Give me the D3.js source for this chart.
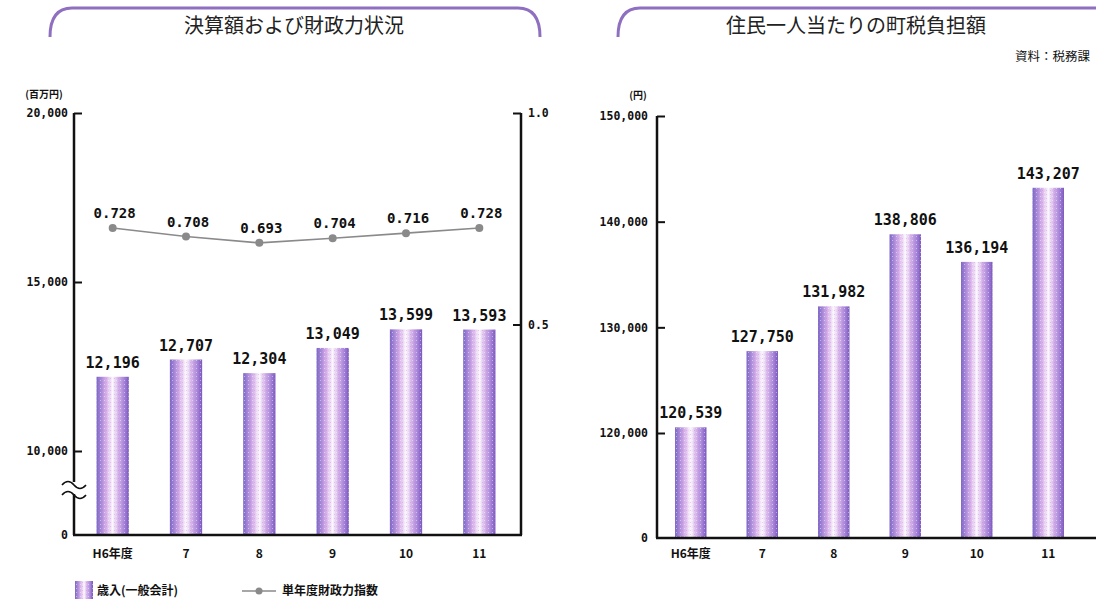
<!DOCTYPE html>
<html>
<head>
<meta charset="utf-8">
<script src="https://cdn.jsdelivr.net/npm/d3@7"></script>
<style>
	body { margin: 0; background: #fff; }
	svg text { font-family: "DejaVu Sans Mono", "Noto Sans CJK JP", monospace; fill: #111; }
	.title { font-family: "Noto Sans CJK JP", sans-serif !important; font-size: 20px; fill: #222; }
	.val { font-size: 15px; font-weight: bold; }
	.jp { font-family: "Noto Sans CJK JP", sans-serif !important; font-size: 12px; font-weight: bold; }
</style>
</head>
<body>
<svg id="chart" width="1096" height="607"></svg>
<script>
const years = ["H6年度", "7", "8", "9", "10", "11"];
const revenue = [12196, 12707, 12304, 13049, 13599, 13593];
const fiscalIndex = [0.728, 0.708, 0.693, 0.704, 0.716, 0.728];
const taxPerCapita = [120539, 127750, 131982, 138806, 136194, 143207];
const leftTicks = [0, 10000, 15000, 20000];
const rightTicks = [0.5, 1.0];
const taxTicks = [0, 120000, 130000, 140000, 150000];

const svg = d3.select("#chart");
const purple = "#8e6fc0";

// bar fill: horizontal gradient + a fine dither on top
const defs = svg.append("defs");
const grad = defs.append("linearGradient").attr("id", "barGrad").attr("x1", "0%").attr("x2", "100%");
[["0%", "#7a66c6"], ["15%", "#a88ad8"], ["30%", "#d6b0ea"], ["50%", "#fbf8fd"], ["68%", "#d2b0e8"], ["84%", "#a989da"], ["100%", "#7a58bf"]]
	.forEach((s) => grad.append("stop").attr("offset", s[0]).attr("stop-color", s[1]));
const pat = defs.append("pattern").attr("id", "dots").attr("width", 4).attr("height", 4).attr("patternUnits", "userSpaceOnUse");
pat.append("rect").attr("x", 0).attr("y", 0).attr("width", 1).attr("height", 1).attr("fill", "#ffffff").attr("opacity", 0.45);
pat.append("rect").attr("x", 2).attr("y", 2).attr("width", 1).attr("height", 1).attr("fill", "#e070d0").attr("opacity", 0.35);

function bars(g, data, x, y) {
	["url(#barGrad)", "url(#dots)"].forEach((f) => {
		g.selectAll(null).data(data).enter().append("rect")
			.attr("x", (d, i) => x(years[i])).attr("width", x.bandwidth())
			.attr("y", (d) => y(d)).attr("height", (d) => y(0) - y(d))
			.attr("fill", f);
	});
}

// title brackets
function bracket(x0, x1, cx, label) {
	svg.append("path")
		.attr("d", `M${x0},37 Q${x0},8 ${x0 + 22},8 L${x1 - 22},8 Q${x1},8 ${x1},37`)
		.attr("fill", "none").attr("stroke", purple).attr("stroke-width", 3);
	svg.append("text").attr("class", "title").attr("x", cx).attr("y", 33).attr("text-anchor", "middle").text(label);
}
bracket(50, 540, 294, "決算額および財政力状況");
bracket(618, 1130, 856, "住民一人当たりの町税負担額");
svg.append("text").attr("class", "jp").attr("x", 1090).attr("y", 61).attr("text-anchor", "end")
	.style("font-weight", "normal").style("font-size", "12.5px").text("資料：税務課");

function styleAxis(g, domainPath) {
	g.select(".domain").attr("stroke", "#111").attr("stroke-width", 2.5).attr("d", domainPath);
	g.selectAll(".tick line").attr("stroke", "#111").attr("stroke-width", 2);
	g.selectAll(".tick text").style("font-size", "11.5px").style("font-weight", "bold").attr("fill", "#111");
}

// ---------- left chart ----------
const x1 = d3.scaleBand().domain(years).range([76, 516]).paddingInner(0.56).paddingOuter(0.28);
const y1 = d3.scaleLinear().domain([0, 10000, 20000]).range([535, 451, 113]);
const yr = d3.scaleLinear().domain([0, 1]).range([536, 113]);

const g1 = svg.append("g");
bars(g1, revenue, x1, y1);
g1.selectAll("text.val").data(revenue).enter().append("text").attr("class", "val")
	.attr("x", (d, i) => x1(years[i]) + x1.bandwidth() / 2).attr("y", (d) => y1(d) - 9)
	.attr("text-anchor", "middle").text((d) => d3.format(",")(d));

const gl = g1.append("g").attr("transform", "translate(74,0)")
	.call(d3.axisLeft(y1).tickValues(leftTicks).tickSize(-8).tickPadding(6).tickFormat(d3.format(",")));
styleAxis(gl, "M0,113V535");
gl.selectAll(".tick").filter((d) => d === 0).select("line").remove();
const gr = g1.append("g").attr("transform", "translate(521,0)")
	.call(d3.axisRight(yr).tickValues(rightTicks).tickSize(-8).tickPadding(7).tickFormat(d3.format(".1f")));
styleAxis(gr, "M0,113V535");
g1.append("line").attr("x1", 73).attr("x2", 522).attr("y1", 535).attr("y2", 535).attr("stroke", "#111").attr("stroke-width", 2.5);

// axis break
g1.append("rect").attr("x", 68).attr("y", 482).attr("width", 12).attr("height", 12).attr("fill", "#fff");
[482, 492].forEach((yy) => {
	g1.append("path").attr("d", `M62,${yy + 3} q6,-7 12,0 t12,0`).attr("fill", "none").attr("stroke", "#111").attr("stroke-width", 1.6);
});

g1.append("text").attr("class", "jp").attr("x", 44).attr("y", 98).attr("text-anchor", "middle").style("font-size", "10px").text("(百万円)");

// fiscal index line
const cx1 = (i) => x1(years[i]) + x1.bandwidth() / 2;
const line = d3.line().x((d, i) => cx1(i)).y((d) => yr(d));
g1.append("path").datum(fiscalIndex).attr("d", line).attr("fill", "none").attr("stroke", "#8a8a8a").attr("stroke-width", 1.6);
g1.selectAll("circle.pt").data(fiscalIndex).enter().append("circle")
	.attr("cx", (d, i) => cx1(i)).attr("cy", (d) => yr(d)).attr("r", 4).attr("fill", "#8a8a8a");
g1.selectAll("text.idx").data(fiscalIndex).enter().append("text").attr("class", "val")
	.attr("x", (d, i) => cx1(i) + 2).attr("y", (d) => yr(d) - 10)
	.attr("text-anchor", "middle").style("font-size", "14px").text((d) => d3.format(".3f")(d));

g1.selectAll("text.xl").data(years).enter().append("text").attr("class", "jp")
	.attr("x", (d) => x1(d) + x1.bandwidth() / 2).attr("y", 558).attr("text-anchor", "middle").text((d) => d);

// legend
["url(#barGrad)", "url(#dots)"].forEach((f) => svg.append("rect").attr("x", 75).attr("y", 581).attr("width", 18).attr("height", 18).attr("fill", f));
svg.append("text").attr("class", "jp").attr("x", 97).attr("y", 595).text("歳入(一般会計)");
svg.append("line").attr("x1", 242).attr("x2", 276).attr("y1", 591).attr("y2", 591).attr("stroke", "#8a8a8a").attr("stroke-width", 1.6);
svg.append("circle").attr("cx", 259).attr("cy", 591).attr("r", 3.5).attr("fill", "#8a8a8a");
svg.append("text").attr("class", "jp").attr("x", 282).attr("y", 595).text("単年度財政力指数");

// ---------- right chart ----------
const x2 = d3.scaleBand().domain(years).range([655, 1084]).paddingInner(0.56).paddingOuter(0.28);
const y2 = d3.scaleLinear().domain([0, 120000, 150000]).range([538, 433, 116]);
const g2 = svg.append("g");
bars(g2, taxPerCapita, x2, y2);
g2.selectAll("text.val").data(taxPerCapita).enter().append("text").attr("class", "val")
	.attr("x", (d, i) => x2(years[i]) + x2.bandwidth() / 2).attr("y", (d) => y2(d) - 9)
	.attr("text-anchor", "middle").text((d) => d3.format(",")(d));

const gt = g2.append("g").attr("transform", "translate(657,0)")
	.call(d3.axisLeft(y2).tickValues(taxTicks).tickSize(-8).tickPadding(9).tickFormat(d3.format(",")));
styleAxis(gt, "M0,116V538");
gt.selectAll(".tick").filter((d) => d === 0).select("line").remove();
g2.append("line").attr("x1", 656).attr("x2", 1096).attr("y1", 538).attr("y2", 538).attr("stroke", "#111").attr("stroke-width", 2.5);
g2.append("text").attr("class", "jp").attr("x", 638).attr("y", 99).attr("text-anchor", "middle").style("font-size", "10px").text("(円)");
g2.selectAll("text.xl").data(years).enter().append("text").attr("class", "jp")
	.attr("x", (d) => x2(d) + x2.bandwidth() / 2).attr("y", 558).attr("text-anchor", "middle").text((d) => d);
</script>
</body>
</html>
